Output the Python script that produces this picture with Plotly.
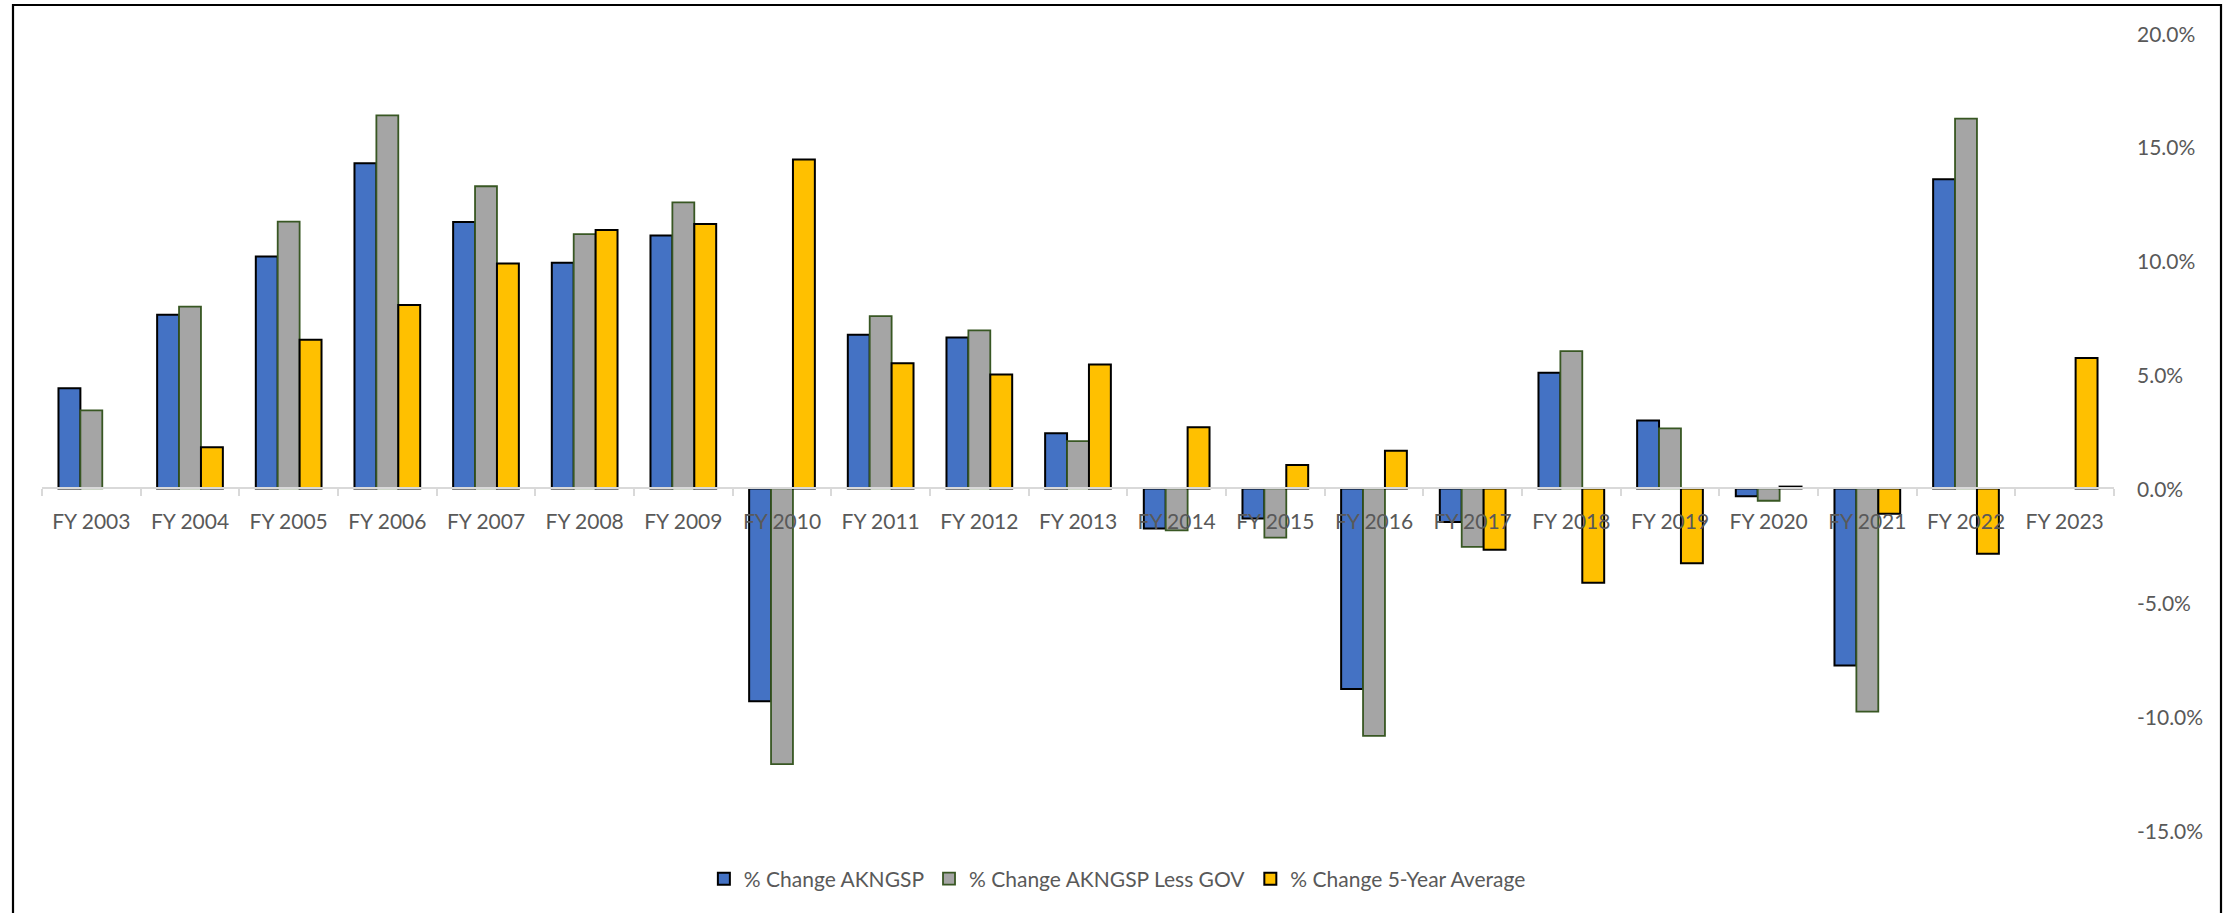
import plotly.graph_objects as go

# Fiscal years on the category axis
years = ["FY 2003", "FY 2004", "FY 2005", "FY 2006", "FY 2007", "FY 2008", "FY 2009",
         "FY 2010", "FY 2011", "FY 2012", "FY 2013", "FY 2014", "FY 2015", "FY 2016",
         "FY 2017", "FY 2018", "FY 2019", "FY 2020", "FY 2021", "FY 2022", "FY 2023"]

# Year-over-year percent changes
akngsp = [4.40, 7.63, 10.18, 14.28, 11.70, 9.91, 11.11, -9.35, 6.75, 6.63, 2.42,
          -1.76, -1.32, -8.81, -1.47, 5.08, 2.98, -0.34, -7.78, 13.58, None]
akngsp_less_gov = [3.43, 7.98, 11.72, 16.38, 13.27, 11.17, 12.56, -12.11, 7.57, 6.94, 2.08,
                   -1.84, -2.16, -10.87, -2.57, 6.03, 2.64, -0.54, -9.80, 16.24, None]
five_year_avg = [None, 1.81, 6.53, 8.05, 9.88, 11.35, 11.61, 14.45, 5.50, 5.00, 5.44,
                 2.69, 1.03, 1.66, -2.69, -4.14, -3.29, 0.08, -1.11, -2.87, 5.73]

# Value-axis ticks (percent)
y_ticks = [-15, -10, -5, 0, 5, 10, 15, 20]
y_tick_labels = [f"{v:.1f}%" for v in y_ticks]

y_min, y_max = -15, 20
FONT = "Lato"
TEXT_GREY = "#595959"

fig = go.Figure()
fig.add_trace(go.Bar(
    x=years, y=akngsp, name="% Change AKNGSP",
    marker=dict(color="#4472C4", line=dict(color="#000000", width=2)),
))
fig.add_trace(go.Bar(
    x=years, y=akngsp_less_gov, name="% Change AKNGSP Less GOV",
    marker=dict(color="#A5A5A5", line=dict(color="#385723", width=1.8)),
))
fig.add_trace(go.Bar(
    x=years, y=five_year_avg, name="% Change 5-Year Average",
    marker=dict(color="#FFC000", line=dict(color="#000000", width=2)),
))

# plot-area geometry in pixels, used to place the outer frame
W, H = 2233, 913
ML, MR, MT, MB = 42, 119, 33, 83
pw, ph = W - ML - MR, H - MT - MB

def px_to_paper_x(px):
    return (px - ML) / pw

def px_to_paper_y(py):
    return (H - MB - py) / ph

fig.add_shape(
    type="rect", xref="paper", yref="paper",
    x0=px_to_paper_x(13), x1=px_to_paper_x(2221),
    y0=px_to_paper_y(930), y1=px_to_paper_y(5),
    line=dict(color="#000000", width=2.2), fillcolor="rgba(0,0,0,0)", layer="below",
)

# left-aligned value labels along the right edge of the plot area
for val, txt in zip(y_ticks, y_tick_labels):
    fig.add_annotation(
        x=1, xref="paper", y=val, yref="y",
        text=txt, showarrow=False, xanchor="left", yanchor="middle",
        xshift=21, font=dict(family=FONT, size=21, color=TEXT_GREY),
    )

fig.update_layout(
    width=W, height=H,
    margin=dict(l=ML, r=MR, t=MT, b=MB, pad=0, autoexpand=False),
    paper_bgcolor="#FFFFFF", plot_bgcolor="#FFFFFF",
    barmode="group", bargap=0.334, bargroupgap=0,
    font=dict(family=FONT, size=21, color=TEXT_GREY),
    showlegend=True,
    legend=dict(
        orientation="h", x=0.519, xanchor="center", y=px_to_paper_y(879), yanchor="middle",
        font=dict(family=FONT, size=21, color=TEXT_GREY),
        bgcolor="rgba(0,0,0,0)", itemclick=False,
    ),
    xaxis=dict(
        type="category", range=[-0.5, len(years) - 0.5],
        anchor="free", position=(0 - y_min) / (y_max - y_min),
        showline=True, linecolor="#D9D9D9", linewidth=1.5,
        ticks="outside", tickson="boundaries", ticklen=7, tickwidth=1.5, tickcolor="#D9D9D9",
        ticklabelstandoff=15, automargin=False,
        showgrid=False, zeroline=False,
        tickfont=dict(family=FONT, size=21, color=TEXT_GREY),
    ),
    yaxis=dict(
        side="right", range=[y_min, y_max],
        tickvals=y_ticks, showticklabels=False,
        showgrid=False, zeroline=False, showline=False, ticks="", automargin=False,
    ),
)

fig.write_html("out.html")
